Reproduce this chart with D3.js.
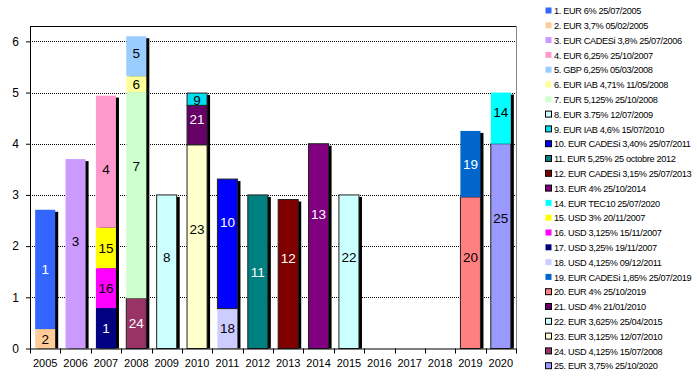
<!DOCTYPE html>
<html>
<head>
<meta charset="utf-8">
<script src="https://cdn.jsdelivr.net/npm/d3@7"></script>
<style>
  body { margin: 0; background: #fff; }
  svg { display: block; font-family: "Liberation Sans", Arial, sans-serif; }
</style>
</head>
<body>
<div class="canvas"></div>
<script>
// years on the x axis
const years = d3.range(2005, 2021).map(String);

// one entry per bond (legend order)
const bondNames = [
  "1. EUR 6% 25/07/2005",
  "2. EUR 3,7% 05/02/2005",
  "3. EUR CADESi 3,8% 25/07/2006",
  "4. EUR 6,25% 25/10/2007",
  "5. GBP 6,25% 05/03/2008",
  "6. EUR IAB 4,71% 11/05/2008",
  "7. EUR 5,125% 25/10/2008",
  "8. EUR 3.75% 12/07/2009",
  "9. EUR IAB 4,6% 15/07/2010",
  "10. EUR CADESi 3,40% 25/07/2011",
  "11. EUR 5,25% 25 octobre 2012",
  "12. EUR CADESi 3,15% 25/07/2013",
  "13. EUR 4% 25/10/2014",
  "14. EUR TEC10 25/07/2020",
  "15. USD 3% 20/11/2007",
  "16. USD 3,125% 15/11/2007",
  "17. USD 3,25% 19/11/2007",
  "18. USD 4,125% 09/12/2011",
  "19. EUR CADESi 1,85% 25/07/2019",
  "20. EUR 4% 25/10/2019",
  "21. USD 4% 21/01/2010",
  "22. EUR 3,625% 25/04/2015",
  "23. EUR 3,125% 12/07/2010",
  "24. USD 4,125% 15/07/2008",
  "25. EUR 3,75% 25/10/2020"
];
const bondYears = [
  "2005", "2005", "2006", "2007", "2008", "2008", "2008", "2009", "2010", "2011",
  "2012", "2013", "2014", "2020", "2007", "2007", "2007", "2011", "2019", "2019",
  "2010", "2015", "2010", "2008", "2020"
];
const bondValues = [
  2.33, 0.38, 3.70, 2.58, 0.78, 0.31, 4.03, 3.00, 0.24, 2.53,
  3.00, 2.91, 4.00, 1.00, 0.79, 0.78, 0.79, 0.78, 1.29, 2.96,
  0.77, 3.00, 3.98, 0.98, 4.00
];
const yTicks = [0, 1, 2, 3, 4, 5, 6];

const bondColors = [
  "#3366ff", "#ffcc99", "#cc99ff", "#ff99cc", "#99ccff", "#ffff99", "#ccffcc", "#ccffff",
  "#00e0f0", "#0000ff", "#008080", "#800000", "#800080", "#00ffff", "#ffff00", "#ff00ff",
  "#000080", "#ccccff", "#0066cc", "#ff8080", "#660066", "#ccffff", "#ffffcc", "#993366",
  "#9999ff"
];
// bonds drawn with a black outline
const outlined = new Set([8, 9, 10, 11, 12, 13, 20, 21, 22, 23, 24, 25]);
const whiteText = new Set([1, 10, 11, 12, 13, 17, 19, 21, 24]);
// data labels as shown in the picture (17 is clipped to "1") and their vertical nudges (px)
const labelText = { 17: "1" };
const labelNudge = { 3: -13, 4: 7, 5: -3, 7: -29, 8: -15, 10: -22, 12: -16, 13: -32,
  14: -6, 20: -16, 21: -6, 22: -15, 23: -17, 25: -28, 9: 1 };

const dims = { width: 697, height: 376 };
const plot = { left: 30, right: 516, top: 26, bottom: 348.5 };

const svg = d3
  .select(".canvas")
  .append("svg")
  .attr("width", dims.width)
  .attr("height", dims.height);

const x = d3
  .scaleBand()
  .domain(years)
  .range([plot.left, plot.right])
  .paddingInner(0.34)
  .paddingOuter(0.17);

const y = d3.scaleLinear().domain([0, 6.3]).range([plot.bottom, plot.top]);

// table: one row per year, one column per bond
const keys = bondNames.map((d, i) => i + 1);
const table = years.map((yr) => {
  const row = { year: yr };
  keys.forEach((k, i) => (row[k] = bondYears[i] === yr ? bondValues[i] : 0));
  return row;
});

// bond 25 sits at the bottom, bond 1 on top
const stack = d3.stack().keys(keys.slice().reverse());
const layers = stack(table);

// gridlines
svg
  .append("g")
  .selectAll("line")
  .data(yTicks.filter((d) => d > 0))
  .join("line")
  .attr("x1", plot.left)
  .attr("x2", plot.right)
  .attr("y1", (d) => Math.round(y(d)) + 0.5)
  .attr("y2", (d) => Math.round(y(d)) + 0.5)
  .attr("stroke", "#000")
  .attr("stroke-dasharray", "1,1");

// frame top and right
svg
  .append("line")
  .attr("x1", plot.left).attr("x2", plot.right)
  .attr("y1", plot.top + 0.5).attr("y2", plot.top + 0.5)
  .attr("stroke", "#000");
svg
  .append("line")
  .attr("x1", plot.right + 0.5).attr("x2", plot.right + 0.5)
  .attr("y1", plot.top).attr("y2", plot.bottom)
  .attr("stroke", "#888");

// shadows behind each year's stack
const totals = table.map((row) => ({
  year: row.year,
  total: d3.sum(keys, (k) => row[k])
}));
svg
  .append("g")
  .selectAll("rect")
  .data(totals.filter((d) => d.total > 0))
  .join("rect")
  .attr("x", (d) => x(d.year) + 3)
  .attr("y", (d) => y(d.total) + 2)
  .attr("width", x.bandwidth())
  .attr("height", (d) => y(0) - y(d.total) - 2)
  .attr("fill", "#000");

// segments
const segs = [];
layers.forEach((layer) => {
  layer.forEach((d) => {
    if (d[1] - d[0] > 0) segs.push({ bond: layer.key, year: d.data.year, y0: d[0], y1: d[1] });
  });
});

const bars = svg.append("g");
bars
  .selectAll("rect")
  .data(segs)
  .join("rect")
  .attr("x", (d) => x(d.year))
  .attr("y", (d) => y(d.y1))
  .attr("width", x.bandwidth())
  .attr("height", (d) => y(d.y0) - y(d.y1))
  .attr("fill", (d) => bondColors[d.bond - 1])
  .attr("stroke", (d) => (outlined.has(d.bond) ? "#222" : "none"))
  .attr("stroke-width", 1);

bars
  .selectAll("text")
  .data(segs)
  .join("text")
  .attr("x", (d) => x(d.year) + x.bandwidth() / 2)
  .attr("y", (d) => (y(d.y0) + y(d.y1)) / 2 + (labelNudge[d.bond] || 0))
  .attr("dy", "0.36em")
  .attr("text-anchor", "middle")
  .attr("font-size", 13.5)
  .attr("fill", (d) => (whiteText.has(d.bond) ? "#fff" : "#000"))
  .text((d) => labelText[d.bond] || d.bond);

// y axis
const yAxis = svg
  .append("g")
  .attr("transform", `translate(${plot.left},0)`)
  .call(d3.axisLeft(y).tickValues(yTicks).tickSize(4).tickPadding(7).tickFormat(d3.format("d")));
yAxis.selectAll("text").attr("font-size", 12).attr("fill", "#000");
yAxis.select(".domain").attr("d", `M0.5,${plot.top}V${plot.bottom}`);

// x axis: labels centred, ticks on category boundaries
const xAxis = svg
  .append("g")
  .attr("transform", `translate(0,${plot.bottom})`)
  .call(d3.axisBottom(x).tickSize(0).tickPadding(11));
xAxis.selectAll("text").attr("font-size", 11).attr("fill", "#000");
xAxis.select(".domain").attr("d", `M${plot.left},0.5H${plot.right}`);

const step = x.step();
svg
  .append("g")
  .selectAll("line")
  .data(d3.range(years.length + 1))
  .join("line")
  .attr("x1", (i) => Math.round(plot.left + i * step) + 0.5)
  .attr("x2", (i) => Math.round(plot.left + i * step) + 0.5)
  .attr("y1", plot.bottom)
  .attr("y2", plot.bottom + 5)
  .attr("stroke", "#000");

// legend
const legend = svg
  .append("g")
  .attr("transform", "translate(545, 11)");

const items = legend
  .selectAll("g")
  .data(bondNames)
  .join("g")
  .attr("transform", (d, i) => `translate(0, ${i * 14.8})`);

items
  .append("rect")
  .attr("x", 0.5)
  .attr("y", -3.5)
  .attr("width", 6)
  .attr("height", 6)
  .attr("fill", (d, i) => bondColors[i])
  .attr("stroke", (d, i) => (outlined.has(i + 1) ? "#000" : "none"));

items
  .append("text")
  .attr("x", 9)
  .attr("dy", "0.35em")
  .attr("font-size", 9.2)
  .attr("letter-spacing", -0.35)
  .attr("fill", "#000")
  .text((d) => d);
</script>
</body>
</html>
